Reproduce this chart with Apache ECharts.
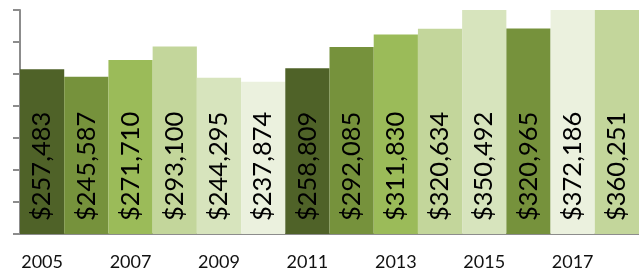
<!DOCTYPE html>
<html>
<head>
<meta charset="utf-8">
<script src="https://cdn.jsdelivr.net/npm/echarts@6/dist/echarts.min.js"></script>
<style>
    html, body { margin: 0; padding: 0; background: #fff; }
    #chart { width: 639px; height: 274px; }
</style>
</head>
<body>
<div id="chart"></div>
<script>
let years = ['2005', '2006', '2007', '2008', '2009', '2010', '2011', '2012', '2013', '2014', '2015', '2016', '2017', '2018']
let amounts = [257483, 245587, 271710, 293100, 244295, 237874, 258809, 292085, 311830, 320634, 350492, 320965, 372186, 360251]
let barColors = ['#4f6228', '#76923c', '#9bbb59', '#c3d69b', '#d7e4bd', '#ebf1de', '#4f6228', '#76923c', '#9bbb59', '#c3d69b', '#d7e4bd', '#76923c', '#ebf1de', '#c3d69b']

let fontName = 'Lato, "Liberation Sans", sans-serif'

let chartA = echarts.init(document.getElementById('chart'))
let barData = []
for (let i = 0; i < amounts.length; i++) {
    barData.push({value: amounts[i], itemStyle: {color: barColors[i]}})
}

let option = {
    animation: false,
    grid: {
        left: 20,
        top: 10,
        width: 626.5,
        bottom: 40,
        containLabel: false
    },
    xAxis: {
        type: 'category',
        data: years,
        axisLine: {lineStyle: {color: '#8c8c8c', width: 2}},
        axisTick: {show: false},
        axisLabel: {
            interval: 1,
            margin: 19,
            color: '#111',
            fontSize: 18,
            fontFamily: fontName
        }
    },
    yAxis: {
        type: 'value',
        min: 0,
        max: 350000,
        interval: 50000,
        splitLine: {show: false},
        axisLine: {show: true, lineStyle: {color: '#8c8c8c', width: 2}},
        axisTick: {show: true, length: 7, lineStyle: {color: '#8c8c8c', width: 2}},
        axisLabel: {show: false}
    },
    series: [{
        type: 'bar',
        data: barData,
        barWidth: '100%',
        clip: true,
        label: {
            show: true,
            position: 'insideBottom',
            distance: 13,
            rotate: 90,
            align: 'left',
            verticalAlign: 'middle',
            color: '#000',
            fontSize: 25.5,
            fontFamily: fontName,
            formatter: function (p) {
                return '$' + p.value.toLocaleString('en-US')
            }
        }
    }]
}
chartA.setOption(option)
</script>
</body>
</html>
